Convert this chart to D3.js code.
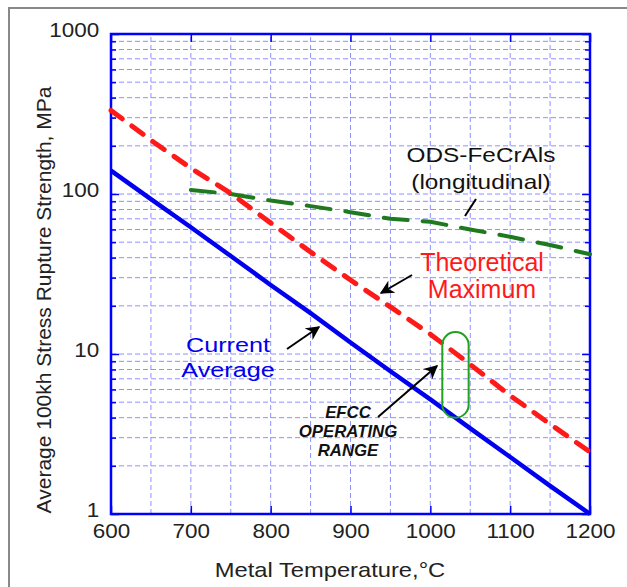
<!DOCTYPE html>
<html>
<head>
<meta charset="utf-8">
<script src="https://cdn.jsdelivr.net/npm/d3@7/dist/d3.min.js"></script>
<style>
  body { margin: 0; background: #fff; }
  svg { display: block; font-family: Arial, "Liberation Sans", sans-serif; }
</style>
</head>
<body>
<svg id="chart" width="627" height="587"></svg>
<script>
// Dados (temperatura em °C, resistência em MPa)
const temps = [600, 650, 700, 750, 800, 850, 900, 950, 1000, 1050, 1100, 1150, 1200];
const currentAverage = [140, 93, 62, 41, 27, 18, 11.8, 7.8, 5.2, 3.43, 2.27, 1.5, 1.0];
const theoreticalMax = [333, 217, 145, 101, 66, 43.4, 29, 19.7, 13.3, 8.6, 5.5, 3.65, 2.44];
const odsTemps = [700, 750, 800, 850, 900, 950, 1000, 1050, 1100, 1150, 1200];
const odsValues = [106, 100, 91, 84, 77, 70, 67, 60, 54, 48, 42];
const xTicks = [600, 700, 800, 900, 1000, 1100, 1200];
const yTicks = [1, 10, 100, 1000];
const efccRange = { t0: 1015, t1: 1048, lo: 4.0, hi: 13.7 };

const svg = d3.select('#chart');
const margin = { left: 111, right: 37, top: 34, bottom: 73 };
const W = 627, H = 587;

const x = d3.scaleLinear().domain([600, 1200]).range([margin.left, W - margin.right]);
const y = d3.scaleLog().domain([1, 1000]).range([H - margin.bottom, margin.top]);

// Moldura externa (cinza, cortada à direita e embaixo)
svg.append('path')
    .attr('d', `M9,${H} V8 H${W}`)
    .attr('fill', 'none')
    .attr('stroke', '#888')
    .attr('stroke-width', 2);

// Grade

const gridColor = '#9090ff';
const minorY = [];
[1, 10, 100].forEach(dec => {
    for (let k = 2; k <= 9; k++) minorY.push(dec * k);
});
const gridY = minorY.concat([10, 100]);
const gridX = d3.range(650, 1200, 50);

const grid = svg.append('g').attr('class', 'grid');
grid.selectAll('line.gx')
    .data(gridX)
    .enter()
    .append('line')
    .attr('x1', d => x(d)).attr('x2', d => x(d))
    .attr('y1', y(1)).attr('y2', y(1000))
    .attr('stroke', gridColor)
    .attr('stroke-width', 1)
    .attr('stroke-dasharray', '5,3');

grid.selectAll('line.gy')
    .data(gridY)
    .enter()
    .append('line')
    .attr('x1', x(600)).attr('x2', x(1200))
    .attr('y1', d => y(d)).attr('y2', d => y(d))
    .attr('stroke', gridColor)
    .attr('stroke-width', 1)
    .attr('stroke-dasharray', '5,3');

// Eixos

const axisColor = '#0000ff';
const gAxes = svg.append('g');

function styleAxis(g) {
    g.select('.domain').remove();
    g.selectAll('.tick line').attr('stroke', axisColor).attr('stroke-width', 1.5);
    g.selectAll('.tick text')
        .attr('fill', '#222')
        .attr('transform', 'scale(1.07,1)')
        .style('font-size', '21px')
        .style('font-family', 'Arial, "Liberation Sans", sans-serif');
}

gAxes.append('g')
    .attr('transform', `translate(0,${y(1)})`)
    .call(d3.axisBottom(x).tickValues(xTicks).tickSize(-8).tickPadding(9).tickFormat(d3.format('d')))
    .call(styleAxis);

gAxes.append('g')
    .attr('transform', `translate(0,${y(1000)})`)
    .call(d3.axisTop(x).tickValues(xTicks).tickSize(-8).tickFormat(''))
    .call(styleAxis);

gAxes.append('g')
    .attr('transform', `translate(${x(600)},0)`)
    .call(d3.axisLeft(y).tickValues(yTicks).tickSize(-8).tickPadding(11).tickFormat(d3.format('d')))
    .call(styleAxis)
    .selectAll('.tick text').attr('dy', '0.1em');

gAxes.append('g')
    .attr('transform', `translate(${x(600)},0)`)
    .call(d3.axisLeft(y).tickValues(minorY).tickSize(-5).tickFormat(''))
    .call(styleAxis);

gAxes.append('g')
    .attr('transform', `translate(${x(1200)},0)`)
    .call(d3.axisRight(y).tickValues(minorY).tickSize(-5).tickFormat(''))
    .call(styleAxis);

gAxes.append('g')
    .attr('transform', `translate(${x(1200)},0)`)
    .call(d3.axisRight(y).tickValues(yTicks).tickSize(-8).tickFormat(''))
    .call(styleAxis);

svg.append('rect')
    .attr('x', x(600)).attr('y', y(1000))
    .attr('width', x(1200) - x(600)).attr('height', y(1) - y(1000))
    .attr('fill', 'none')
    .attr('stroke', axisColor)
    .attr('stroke-width', 2.5);

// Texto com esticamento horizontal (o original parece esticado)
function label(lines, cx, y0, dy, color, size, sx, extra) {
    const g = svg.append('g').attr('transform', `translate(${cx},0) scale(${sx},1)`);
    const t = g.append('text')
        .attr('text-anchor', 'middle')
        .attr('fill', color)
        .style('font-size', size + 'px');
    if (extra) extra(t);
    lines.forEach((s, i) => {
        t.append('tspan').attr('x', 0).attr('y', y0 + i * dy).text(s);
    });
}

// Rótulos dos eixos
label(['Metal Temperature,°C'], 330, 577, 0, '#222', 21, 1.13);

svg.append('text')
    .attr('transform', 'translate(51,300) rotate(-90)')
    .attr('text-anchor', 'middle')
    .attr('fill', '#222')
    .style('font-size', '21px')
    .text('Average 100kh Stress Rupture Strength, MPa');

// Curvas

const line = d3.line()
    .x(d => x(d[0]))
    .y(d => y(d[1]));

const curves = svg.append('g');

curves.append('path')
    .datum(odsTemps.map((t, i) => [t, odsValues[i]]))
    .attr('d', line)
    .attr('fill', 'none')
    .attr('stroke', '#1f7a1f')
    .attr('stroke-width', 4)
    .attr('stroke-linecap', 'round')
    .attr('stroke-dasharray', '24,15');

curves.append('path')
    .datum(temps.map((t, i) => [t, theoreticalMax[i]]))
    .attr('d', line)
    .attr('fill', 'none')
    .attr('stroke', '#ff1a1a')
    .attr('stroke-width', 5)
    .attr('stroke-linecap', 'round')
    .attr('stroke-dasharray', '14,12');

curves.append('path')
    .datum(temps.map((t, i) => [t, currentAverage[i]]))
    .attr('d', line)
    .attr('fill', 'none')
    .attr('stroke', '#0000ee')
    .attr('stroke-width', 4.5);

// Faixa de operação EFCC (oval verde)
svg.append('rect')
    .attr('x', x(efccRange.t0))
    .attr('y', y(efccRange.hi))
    .attr('width', x(efccRange.t1) - x(efccRange.t0))
    .attr('height', y(efccRange.lo) - y(efccRange.hi))
    .attr('rx', 13)
    .attr('fill', 'none')
    .attr('stroke', '#22a022')
    .attr('stroke-width', 2);

// Anotações

svg.append('defs').append('marker')
    .attr('id', 'arrow')
    .attr('viewBox', '0 0 10 10')
    .attr('refX', 9).attr('refY', 5)
    .attr('markerWidth', 7).attr('markerHeight', 7)
    .attr('orient', 'auto')
    .append('path')
    .attr('d', 'M0,0 L10,5 L0,10 L3,5 Z')
    .attr('fill', '#000');

function arrow(x1, y1, x2, y2, head) {
    const l = svg.append('line')
        .attr('x1', x1).attr('y1', y1)
        .attr('x2', x2).attr('y2', y2)
        .attr('stroke', '#000')
        .attr('stroke-width', 2);
    if (head) l.attr('marker-end', 'url(#arrow)');
}

label(['ODS-FeCrAls', '(longitudinal)'], 481, 162, 27, '#111', 21, 1.16);
arrow(476, 199, 465, 216, false);

label(['Theoretical', 'Maximum'], 482, 271, 27, '#ff1a1a', 25, 1.0);
arrow(412, 275, 381, 293, true);

label(['Current', 'Average'], 228, 352, 25, '#0000ee', 21, 1.2);
arrow(287, 349, 319, 327, true);

label(['EFCC', 'OPERATING', 'RANGE'], 348, 418, 19, '#111', 16, 1.05,
    t => t.style('font-weight', 'bold').style('font-style', 'italic'));
arrow(378, 417, 437, 366, true);
</script>
</body>
</html>
